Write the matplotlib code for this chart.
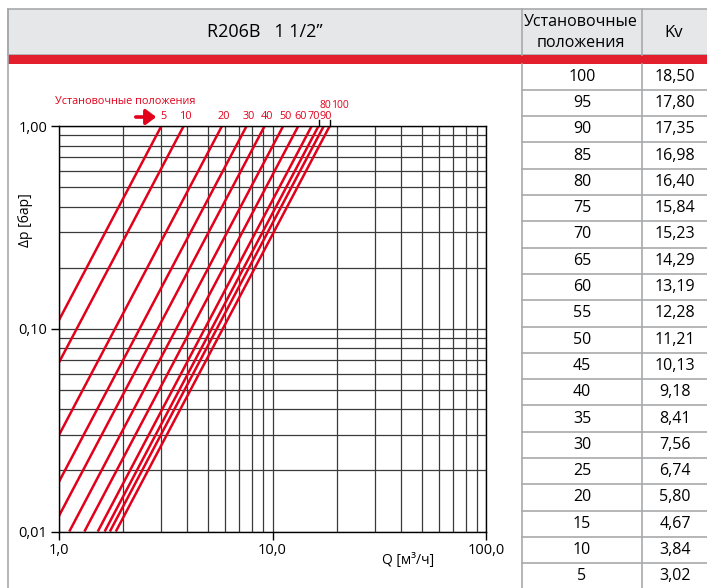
import numpy as np
import matplotlib
matplotlib.use("Agg")
import matplotlib.pyplot as plt
from matplotlib.ticker import FixedLocator, NullFormatter

plt.rcParams['font.family'] = ['Open Sans', 'DejaVu Sans']

# table data
positions = [100, 95, 90, 85, 80, 75, 70, 65, 60, 55, 50, 45, 40, 35, 30, 25, 20, 15, 10, 5]
kv_values = ["18,50", "17,80", "17,35", "16,98", "16,40", "15,84", "15,23", "14,29", "13,19",
             "12,28", "11,21", "10,13", "9,18", "8,41", "7,56", "6,74", "5,80", "4,67", "3,84", "3,02"]

# curves drawn in the diagram
curve_labels = ["5", "10", "20", "30", "40", "50", "60", "70", "80", "90", "100"]
curve_kv = [3.02, 3.84, 5.80, 7.56, 9.18, 11.21, 13.19, 15.23, 16.40, 17.35, 18.50]

y_ticks = [0.01, 0.1, 1.0]
y_ticklabels = ["0,01", "0,10", "1,00"]
x_ticks = [1, 10, 100]
x_ticklabels = ["1,0", "10,0", "100,0"]

RED = "#e2001a"
GREY = "#a7a9ac"
W, H = 707, 588

fig = plt.figure(figsize=(W / 100, H / 100), dpi=100)

# page decorations (pixel coordinates)
bg = fig.add_axes([0, 0, 1, 1], zorder=0)
bg.set_xlim(0, W)
bg.set_ylim(H, 0)
bg.axis('off')

bg.add_patch(plt.Rectangle((7.5, 9), W, 45.5, facecolor="#e6e7e8", edgecolor=GREY, lw=1.2))
bg.add_patch(plt.Rectangle((7.5, 55), W, 8.5, facecolor="#e31e2d", edgecolor="none"))
bg.plot([7.5, 7.5], [9, H], color=GREY, lw=1.2)
for xs in [521.5, 642]:
    bg.plot([xs, xs], [9, 55], color=GREY, lw=1.2)
    bg.plot([xs, xs], [63.5, H], color=GREY, lw=1.2)

bg.text(265, 32, "R206B   1 1/2”", ha='center', va='center', fontsize=13)
bg.text(581, 22, "Установочные", ha='center', va='center', fontsize=11.5)
bg.text(581, 43, "положения", ha='center', va='center', fontsize=11.5)
bg.text(674, 33, "Kv", ha='center', va='center', fontsize=12)

row_h = 26.3
y0 = 63.5
for i, (p, k) in enumerate(zip(positions, kv_values)):
    yc = y0 + row_h * (i + 0.5)
    bg.text(582, yc, str(p), ha='center', va='center', fontsize=11.5)
    bg.text(675, yc, k, ha='center', va='center', fontsize=11.5)
    if i > 0:
        bg.plot([521.5, W], [y0 + row_h * i, y0 + row_h * i], color=GREY, lw=1.2)

# label "Установочные положения" with arrow
bg.text(125, 101, "Установочные положения", ha='center', va='center', fontsize=7.8, color=RED)
bg.annotate("", xy=(159, 117), xytext=(133, 117),
            arrowprops=dict(arrowstyle="-|>,head_length=0.6,head_width=0.45", color=RED, lw=2.6))

# diagram
left, right, top, bottom = 58.7, 486.5, 126, 531.5
ax = fig.add_axes([left / W, 1 - bottom / H, (right - left) / W, (bottom - top) / H], zorder=2)
ax.set_xscale('log')
ax.set_yscale('log')
ax.set_xlim(1, 100)
ax.set_ylim(0.01, 1)

ax.grid(which='both', color='#3a3a3a', lw=0.9)
ax.set_axisbelow(True)
for s in ax.spines.values():
    s.set_color('black')
    s.set_linewidth(1.0)

for kv in curve_kv:
    ax.plot([kv * 0.1, kv], [0.01, 1.0], color=RED, lw=1.8, solid_capstyle='butt')

for lab, kv in zip(curve_labels, curve_kv):
    if lab in ("80", "100"):
        ax.annotate(lab, xy=(kv, 1.0), xytext=(0.8, 15), textcoords='offset points',
                    ha='left', va='center', fontsize=7.5, color=RED, annotation_clip=False)
        ax.plot([kv, kv], [1.0, 1.065], color='black', lw=1.0, clip_on=False)
    else:
        ax.annotate(lab, xy=(kv, 1.0), xytext=(1.5, 6.5), textcoords='offset points',
                    ha='center', va='center', fontsize=7.8, color=RED, annotation_clip=False)

ax.yaxis.set_major_locator(FixedLocator(y_ticks))
ax.set_yticklabels(y_ticklabels)
ax.xaxis.set_major_locator(FixedLocator(x_ticks))
ax.set_xticklabels(x_ticklabels)
ax.xaxis.set_minor_formatter(NullFormatter())
ax.yaxis.set_minor_formatter(NullFormatter())
ax.tick_params(which='major', direction='out', length=6, width=1, labelsize=10.5, pad=2)
ax.tick_params(which='minor', length=0)

ax.set_ylabel("Δp [бар]", fontsize=10)
ax.yaxis.set_label_coords(-0.06, 0.768)
ax.set_xlabel("Q [м³/ч]", fontsize=10)
ax.xaxis.set_label_coords(0.8165, -0.053)

fig.savefig("out.png", dpi=100)
